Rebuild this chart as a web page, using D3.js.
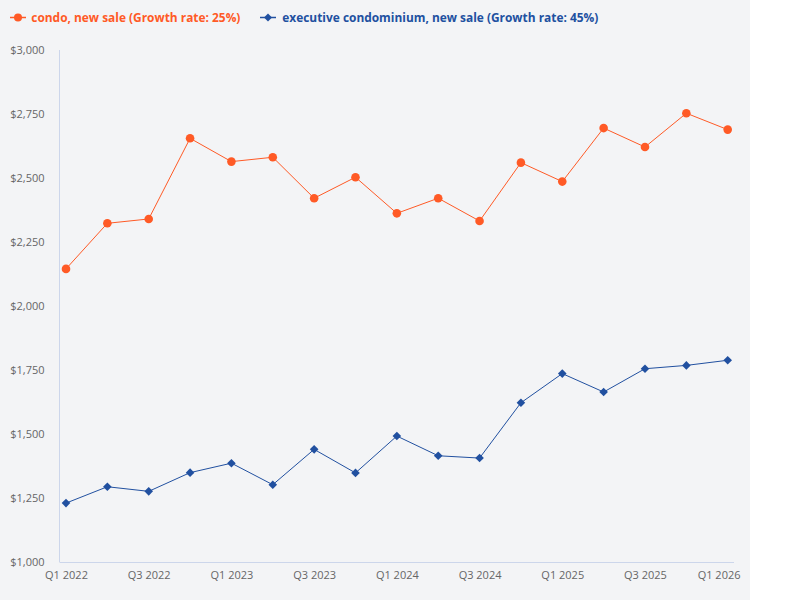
<!DOCTYPE html>
<html>
<head>
<meta charset="utf-8">
<script src="https://cdn.jsdelivr.net/npm/d3@7"></script>
<style>
  html, body { margin: 0; padding: 0; background: #ffffff; }
  svg { display: block; }
  text { font-family: "Open Sans", sans-serif; }
</style>
</head>
<body>
<svg id="chart" width="800" height="600"></svg>
<script>
const categories = ["Q1 2022","Q2 2022","Q3 2022","Q4 2022","Q1 2023","Q2 2023","Q3 2023","Q4 2023",
  "Q1 2024","Q2 2024","Q3 2024","Q4 2024","Q1 2025","Q2 2025","Q3 2025","Q4 2025","Q1 2026"];
const tickLabels = ["Q1 2022","Q3 2022","Q1 2023","Q3 2023","Q1 2024","Q3 2024","Q1 2025","Q3 2025","Q1 2026"];
const condoValues = [2145, 2323, 2340, 2655, 2564, 2581, 2421, 2503, 2362, 2421, 2332, 2560, 2486, 2695, 2621, 2753, 2689];
const ecValues = [1230, 1294, 1276, 1349, 1386, 1302, 1440, 1348, 1492, 1415, 1406, 1622, 1736, 1664, 1755, 1768, 1788];
const yTicks = [1000, 1250, 1500, 1750, 2000, 2250, 2500, 2750, 3000];
const seriesNames = ["condo, new sale (Growth rate: 25%)", "executive condominium, new sale (Growth rate: 45%)"];

const svg = d3.select("#chart");
const orange = "#ff5a26";
const blue = "#2150a0";

svg.append("rect").attr("x", 0).attr("y", 0).attr("width", 750).attr("height", 600).attr("fill", "#f3f4f6");

const x = d3.scalePoint().domain(categories).range([66, 727.7]);
const y = d3.scaleLinear().domain([1000, 3000]).range([562, 50]);

// Y axis
const yAxis = svg.append("g").attr("transform", "translate(59.5,0)")
  .call(d3.axisLeft(y).tickValues(yTicks).tickSize(0).tickPadding(15)
    .tickFormat(d => "$" + d3.format(",")(d)));
yAxis.select(".domain").attr("stroke", "#ccd6eb").attr("d", "M0,50V562");
yAxis.selectAll("text").attr("fill", "#666666").style("font-size", "11px").attr("dy", "0.32em");

// X axis
const xAxis = svg.append("g").attr("transform", "translate(0,562.5)")
  .call(d3.axisBottom(x).tickValues(tickLabels).tickSize(0).tickPadding(9));
xAxis.select(".domain").attr("stroke", "#ccd6eb").attr("d", "M59.5,0H734");
xAxis.selectAll("text").attr("fill", "#666666").style("font-size", "11px");
xAxis.selectAll(".tick").filter(d => d === "Q1 2026").select("text").attr("text-anchor", "end").attr("dx", "12.3");

// lines
const line = d3.line().x((d, i) => x(categories[i])).y(d => y(d));
svg.append("path").datum(condoValues).attr("d", line).attr("fill", "none").attr("stroke", orange).attr("stroke-width", 1);
svg.append("path").datum(ecValues).attr("d", line).attr("fill", "none").attr("stroke", blue).attr("stroke-width", 1);

svg.append("g").selectAll("circle").data(condoValues).join("circle")
  .attr("cx", (d, i) => x(categories[i])).attr("cy", d => y(d)).attr("r", 4.3).attr("fill", orange);

const diamond = "M0,-4.3L4.3,0L0,4.3L-4.3,0Z";
svg.append("g").selectAll("path").data(ecValues).join("path")
  .attr("transform", (d, i) => `translate(${x(categories[i])},${y(d)})`).attr("d", diamond).attr("fill", blue);

// legend
const legend = svg.append("g");
const items = [
  { name: seriesNames[0], color: orange, x0: 10, shape: "circle", textX: 31.3 },
  { name: seriesNames[1], color: blue, x0: 260, shape: "diamond", textX: 282.3 }
];
const targetW = [209.4, 316];
items.forEach((it, k) => {
  const g = legend.append("g");
  g.append("line").attr("x1", it.x0).attr("x2", it.x0 + 16).attr("y1", 17.5).attr("y2", 17.5)
    .attr("stroke", it.color).attr("stroke-width", 1.5);
  if (it.shape === "circle") {
    g.append("circle").attr("cx", it.x0 + 8).attr("cy", 17.5).attr("r", 4).attr("fill", it.color);
  } else {
    g.append("path").attr("transform", `translate(${it.x0 + 8},17.5)`).attr("d", "M0,-4L4,0L0,4L-4,0Z").attr("fill", it.color);
  }
  const t = g.append("text").attr("x", it.textX).attr("y", 17.5).attr("dy", "0.35em")
    .attr("fill", it.color).style("font-size", "12px").style("font-weight", "700").text(it.name);
  const w = t.node().getComputedTextLength();
  t.style("font-size", (12 * targetW[k] / w).toFixed(2) + "px");
});
</script>
</body>
</html>
